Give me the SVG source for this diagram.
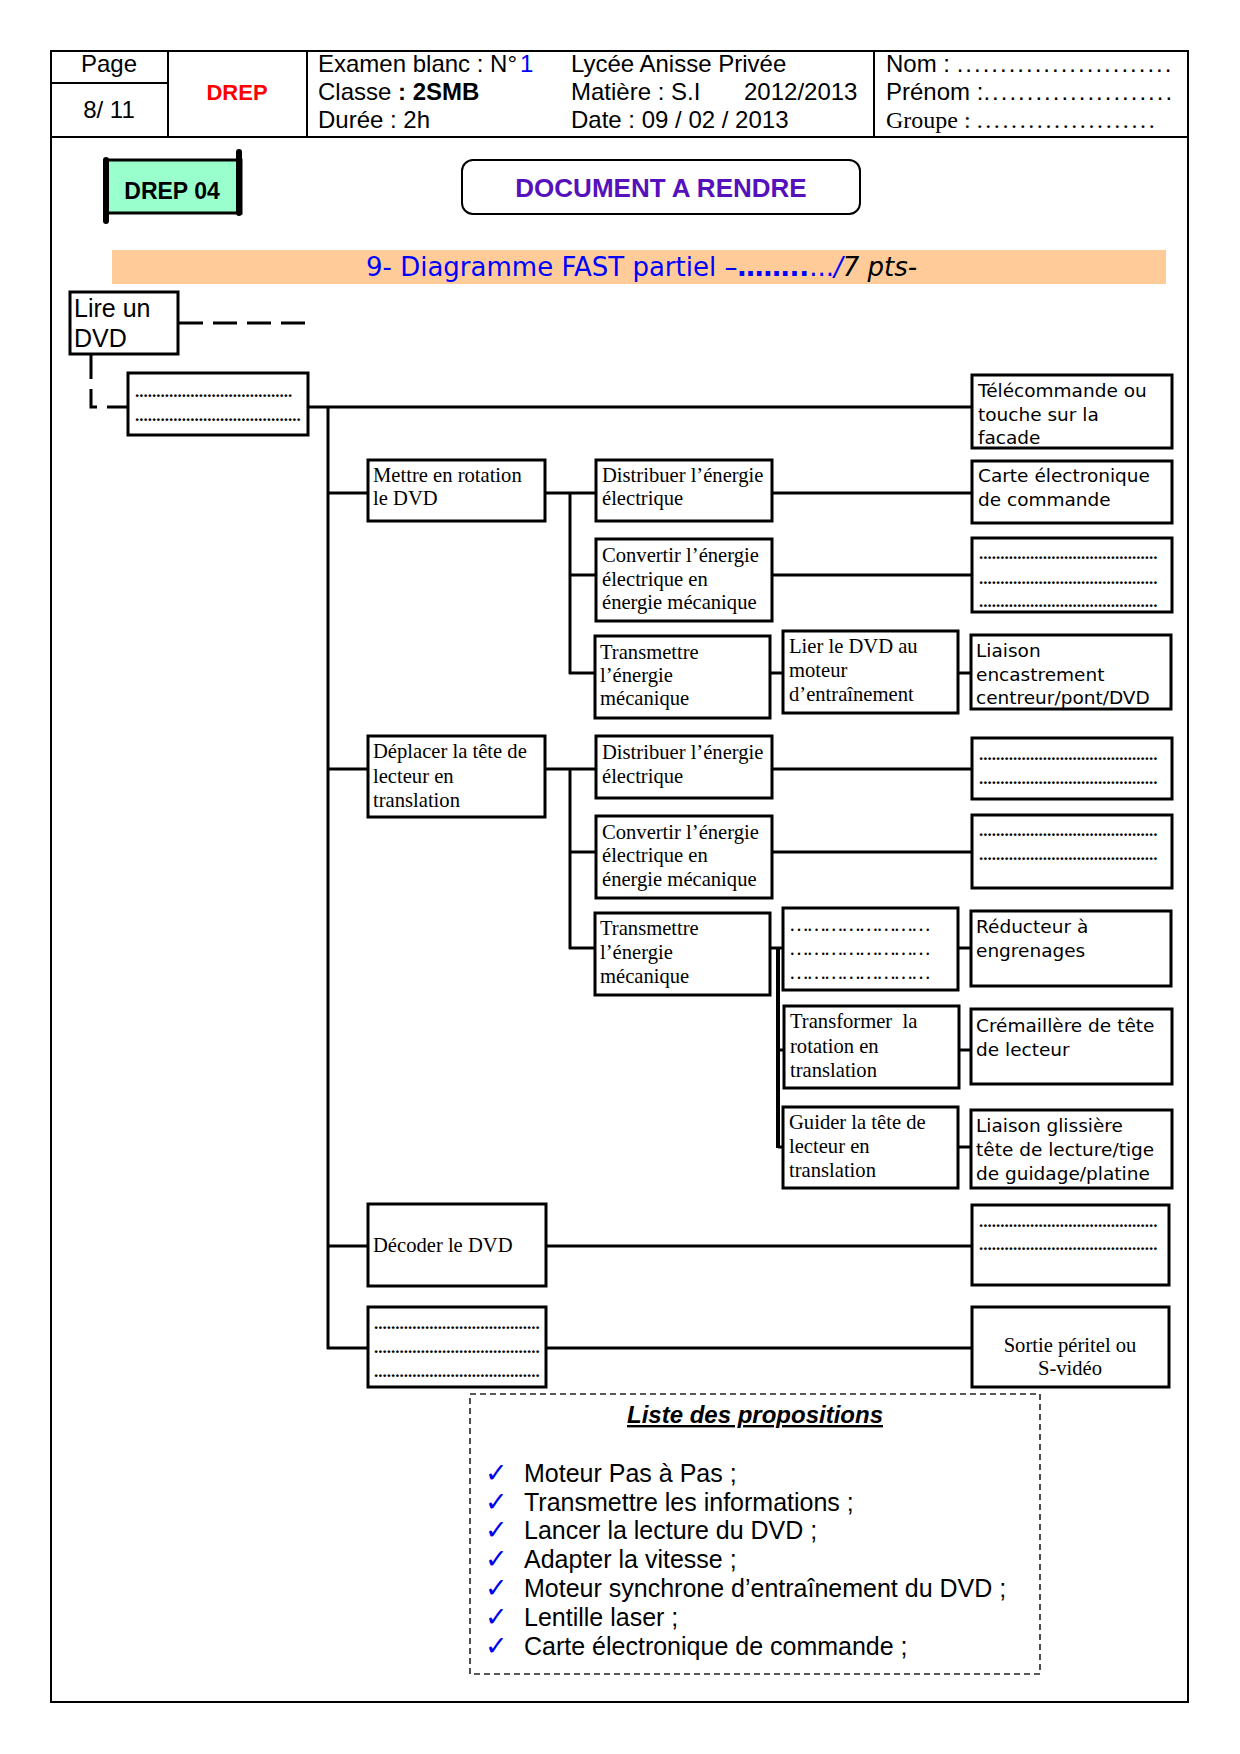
<svg xmlns="http://www.w3.org/2000/svg" width="1240" height="1754" viewBox="0 0 1240 1754">
<style>
.frame{fill:none;stroke:#000;stroke-width:2}
.box{fill:#fff;stroke:#000;stroke-width:3}
.ln{fill:none;stroke:#000;stroke-width:3}
.dash{fill:none;stroke:#000;stroke-width:3;stroke-dasharray:24 10}
.hd{font-family:"Liberation Sans",Arial,sans-serif;font-size:24px;fill:#000}
.se{font-family:"Liberation Serif","Times New Roman",serif;font-size:20.6px;fill:#000}
.sa{font-family:"DejaVu Sans",Verdana,sans-serif;font-size:18.5px;fill:#000}
.dots{font-family:"Liberation Serif","Times New Roman",serif;font-size:17px;font-weight:bold;fill:#000}
.ell{font-family:"Liberation Serif","Times New Roman",serif;font-size:20px;fill:#000}
.li{font-family:"Liberation Sans",Arial,sans-serif;font-size:25px;fill:#000}
.ck{font-family:"DejaVu Sans",sans-serif;font-size:27px;font-weight:bold;fill:#0000EE}
</style>
<rect width="1240" height="1754" fill="#fff"/>

<g id="header">
<rect class="frame" x="51" y="51" width="1137" height="1651"/>
<line class="frame" x1="51" y1="137" x2="1188" y2="137"/>
<line class="frame" x1="51" y1="83" x2="168" y2="83"/>
<line class="frame" x1="168" y1="51" x2="168" y2="137"/>
<line class="frame" x1="307" y1="51" x2="307" y2="137"/>
<line class="frame" x1="874" y1="51" x2="874" y2="137"/>
<text class="hd" x="109" y="72" text-anchor="middle">Page</text>
<text class="hd" x="109" y="118" text-anchor="middle">8/ 11</text>
<text x="237" y="100" text-anchor="middle" font-family="Liberation Sans,Arial,sans-serif" font-size="22" font-weight="bold" fill="#FF0000">DREP</text>
<text class="hd" x="318" y="72">Examen blanc : N°<tspan fill="#0000FF" dx="3">1</tspan></text>
<text class="hd" x="318" y="100">Classe <tspan font-weight="bold">: 2SMB</tspan></text>
<text class="hd" x="318" y="128">Durée : 2h</text>
<text class="hd" x="571" y="72">Lycée Anisse Privée</text>
<text class="hd" x="571" y="100">Matière : S.I</text>
<text class="hd" x="744" y="100">2012/2013</text>
<text class="hd" x="571" y="128">Date : 09 / 02 / 2013</text>
<text class="hd" x="886" y="72">Nom : <tspan letter-spacing="2">.........................</tspan></text>
<text class="hd" x="886" y="100">Prénom :<tspan letter-spacing="2">......................</tspan></text>
<text x="886" y="128" font-family="Liberation Serif,Times New Roman,serif" font-size="24">Groupe : <tspan letter-spacing="2.6">.....................</tspan></text>
</g>

<g id="drep04">
<rect x="107" y="160" width="134" height="53" fill="#99FFCC" stroke="#000" stroke-width="3"/>
<line x1="106" y1="160" x2="106" y2="221" stroke="#000" stroke-width="6" stroke-linecap="round"/>
<line x1="239" y1="152" x2="239" y2="213" stroke="#000" stroke-width="6" stroke-linecap="round"/>
<text x="172" y="199" text-anchor="middle" font-family="Liberation Sans,Arial,sans-serif" font-size="23" font-weight="bold">DREP 04</text>
</g>

<g id="doc-a-rendre">
<rect x="462" y="160" width="398" height="54" rx="11" fill="#fff" stroke="#000" stroke-width="2"/>
<text x="661" y="197" text-anchor="middle" font-family="Liberation Sans,Arial,sans-serif" font-size="26" font-weight="bold" fill="#5511BB">DOCUMENT A RENDRE</text>
</g>

<g id="title">
<rect x="112" y="250" width="1054" height="34" fill="#FFCC99"/>
<text x="366" y="276" font-family="DejaVu Sans,Verdana,sans-serif" font-size="26" fill="#0000FF">9- Diagramme FAST partiel –<tspan font-weight="bold">……..</tspan>...<tspan font-style="italic">/</tspan><tspan font-style="italic" fill="#000">7 pts-</tspan></text>
</g>

<g id="connectors">
<line class="dash" x1="179" y1="323" x2="305" y2="323"/>
<polyline fill="none" stroke="#000" stroke-width="3" stroke-dasharray="24 10" points="91,355 91,407 128,407"/>
<line class="ln" x1="308" y1="407" x2="972" y2="407"/>
<line class="ln" x1="328" y1="407" x2="328" y2="1349"/>
<line class="ln" x1="328" y1="493" x2="368" y2="493"/>
<line class="ln" x1="328" y1="769" x2="368" y2="769"/>
<line class="ln" x1="328" y1="1246" x2="368" y2="1246"/>
<line class="ln" x1="327" y1="1348" x2="368" y2="1348"/>
<line class="ln" x1="545" y1="493" x2="596" y2="493"/>
<line class="ln" x1="570" y1="493" x2="570" y2="674"/>
<line class="ln" x1="570" y1="575" x2="596" y2="575"/>
<line class="ln" x1="569" y1="673" x2="595" y2="673"/>
<line class="ln" x1="772" y1="493" x2="972" y2="493"/>
<line class="ln" x1="772" y1="575" x2="972" y2="575"/>
<line class="ln" x1="770" y1="673" x2="783" y2="673"/>
<line class="ln" x1="958" y1="673" x2="971" y2="673"/>
<line class="ln" x1="545" y1="769" x2="596" y2="769"/>
<line class="ln" x1="570" y1="769" x2="570" y2="949"/>
<line class="ln" x1="570" y1="852" x2="596" y2="852"/>
<line class="ln" x1="569" y1="948" x2="595" y2="948"/>
<line class="ln" x1="772" y1="769" x2="972" y2="769"/>
<line class="ln" x1="772" y1="852" x2="972" y2="852"/>
<line class="ln" x1="770" y1="948" x2="783" y2="948"/>
<line fill="none" stroke="#000" stroke-width="4" x1="778" y1="948" x2="778" y2="1148"/>
<line class="ln" x1="778" y1="1050" x2="784" y2="1050"/>
<line class="ln" x1="778" y1="1147" x2="783" y2="1147"/>
<line class="ln" x1="958" y1="948" x2="971" y2="948"/>
<line class="ln" x1="959" y1="1050" x2="971" y2="1050"/>
<line class="ln" x1="958" y1="1147" x2="971" y2="1147"/>
<line class="ln" x1="546" y1="1246" x2="972" y2="1246"/>
<line class="ln" x1="546" y1="1348" x2="972" y2="1348"/>
</g>

<g id="n-lire">
<rect class="box" x="70" y="292" width="108" height="62"/>
<text class="li" x="74" y="317">Lire un</text>
<text class="li" x="74" y="347">DVD</text>
</g>

<g id="n-root">
<rect class="box" x="128" y="373" width="180" height="62"/>
<text class="dots" x="135" y="397">.....................................</text>
<text class="dots" x="135" y="421">.......................................</text>
</g>

<g id="n-telecommande">
<rect class="box" x="972" y="375" width="200" height="73"/>
<text class="sa" x="978" y="397">Télécommande ou</text>
<text class="sa" x="978" y="421">touche sur la</text>
<text class="sa" x="978" y="444">facade</text>
</g>

<g id="n-mettre">
<rect class="box" x="368" y="460" width="177" height="61"/>
<text class="se" x="373" y="482">Mettre en rotation</text>
<text class="se" x="373" y="505">le DVD</text>
</g>

<g id="n-distribuer1">
<rect class="box" x="596" y="460" width="176" height="61"/>
<text class="se" x="602" y="482">Distribuer l’énergie</text>
<text class="se" x="602" y="505">électrique</text>
</g>

<g id="n-carte">
<rect class="box" x="972" y="461" width="200" height="62"/>
<text class="sa" x="978" y="482">Carte électronique</text>
<text class="sa" x="978" y="506">de commande</text>
</g>

<g id="n-convertir1">
<rect class="box" x="596" y="539" width="176" height="82"/>
<text class="se" x="602" y="562">Convertir l’énergie</text>
<text class="se" x="602" y="586">électrique en</text>
<text class="se" x="602" y="609">énergie mécanique</text>
</g>

<g id="n-dots1">
<rect class="box" x="972" y="538" width="200" height="74"/>
<text class="dots" x="979" y="559">..........................................</text>
<text class="dots" x="979" y="584">..........................................</text>
<text class="dots" x="979" y="607">..........................................</text>
</g>

<g id="n-transmettre1">
<rect class="box" x="595" y="636" width="175" height="82"/>
<text class="se" x="600" y="659">Transmettre</text>
<text class="se" x="600" y="682">l’énergie</text>
<text class="se" x="600" y="705">mécanique</text>
</g>

<g id="n-lier">
<rect class="box" x="783" y="631" width="175" height="82"/>
<text class="se" x="789" y="653">Lier le DVD au</text>
<text class="se" x="789" y="677">moteur</text>
<text class="se" x="789" y="701">d’entraînement</text>
</g>

<g id="n-encastrement">
<rect class="box" x="971" y="635" width="200" height="74"/>
<text class="sa" x="976" y="657">Liaison</text>
<text class="sa" x="976" y="681">encastrement</text>
<text class="sa" x="976" y="704">centreur/pont/DVD</text>
</g>

<g id="n-deplacer">
<rect class="box" x="368" y="736" width="177" height="81"/>
<text class="se" x="373" y="758">Déplacer la tête de</text>
<text class="se" x="373" y="783">lecteur en</text>
<text class="se" x="373" y="807">translation</text>
</g>

<g id="n-distribuer2">
<rect class="box" x="596" y="736" width="176" height="62"/>
<text class="se" x="602" y="759">Distribuer l’énergie</text>
<text class="se" x="602" y="783">électrique</text>
</g>

<g id="n-dots2">
<rect class="box" x="972" y="738" width="200" height="61"/>
<text class="dots" x="979" y="760">..........................................</text>
<text class="dots" x="979" y="784">..........................................</text>
</g>

<g id="n-convertir2">
<rect class="box" x="596" y="816" width="176" height="82"/>
<text class="se" x="602" y="839">Convertir l’énergie</text>
<text class="se" x="602" y="862">électrique en</text>
<text class="se" x="602" y="886">énergie mécanique</text>
</g>

<g id="n-dots3">
<rect class="box" x="972" y="815" width="200" height="73"/>
<text class="dots" x="979" y="836">..........................................</text>
<text class="dots" x="979" y="860">..........................................</text>
</g>

<g id="n-transmettre2">
<rect class="box" x="595" y="913" width="175" height="82"/>
<text class="se" x="600" y="935">Transmettre</text>
<text class="se" x="600" y="959">l’énergie</text>
<text class="se" x="600" y="983">mécanique</text>
</g>

<g id="n-dots4">
<rect class="box" x="783" y="908" width="175" height="82"/>
<text class="ell" x="789" y="931" textLength="142" lengthAdjust="spacing">……………………</text>
<text class="ell" x="789" y="955" textLength="142" lengthAdjust="spacing">……………………</text>
<text class="ell" x="789" y="979" textLength="142" lengthAdjust="spacing">……………………</text>
</g>

<g id="n-reducteur">
<rect class="box" x="971" y="911" width="200" height="75"/>
<text class="sa" x="976" y="933">Réducteur à</text>
<text class="sa" x="976" y="957">engrenages</text>
</g>

<g id="n-transformer">
<rect class="box" x="784" y="1006" width="175" height="82"/>
<text class="se" x="790" y="1028" xml:space="preserve">Transformer  la</text>
<text class="se" x="790" y="1053">rotation en</text>
<text class="se" x="790" y="1077">translation</text>
</g>

<g id="n-cremaillere">
<rect class="box" x="971" y="1009" width="201" height="75"/>
<text class="sa" x="976" y="1032">Crémaillère de tête</text>
<text class="sa" x="976" y="1056">de lecteur</text>
</g>

<g id="n-guider">
<rect class="box" x="783" y="1107" width="175" height="81"/>
<text class="se" x="789" y="1129">Guider la tête de</text>
<text class="se" x="789" y="1153">lecteur en</text>
<text class="se" x="789" y="1177">translation</text>
</g>

<g id="n-glissiere">
<rect class="box" x="971" y="1110" width="201" height="78"/>
<text class="sa" x="976" y="1132">Liaison glissière</text>
<text class="sa" x="976" y="1156">tête de lecture/tige</text>
<text class="sa" x="976" y="1180">de guidage/platine</text>
</g>

<g id="n-decoder">
<rect class="box" x="368" y="1204" width="178" height="82"/>
<text class="se" x="373" y="1252">Décoder le DVD</text>
</g>

<g id="n-dots5">
<rect class="box" x="972" y="1205" width="197" height="80"/>
<text class="dots" x="979" y="1227">..........................................</text>
<text class="dots" x="979" y="1250">..........................................</text>
</g>

<g id="n-dots6">
<rect class="box" x="368" y="1307" width="178" height="80"/>
<text class="dots" x="374" y="1329">.......................................</text>
<text class="dots" x="374" y="1353">.......................................</text>
<text class="dots" x="374" y="1377">.......................................</text>
</g>

<g id="n-sortie">
<rect class="box" x="972" y="1307" width="197" height="80"/>
<text class="se" x="1070" y="1352" text-anchor="middle">Sortie péritel ou</text>
<text class="se" x="1070" y="1375" text-anchor="middle">S-vidéo</text>
</g>

<g id="liste">
<rect x="470" y="1394" width="570" height="280" fill="none" stroke="#222" stroke-width="1.6" stroke-dasharray="6 4"/>
<text x="755" y="1423" text-anchor="middle" font-family="Liberation Sans,Arial,sans-serif" font-size="24" font-weight="bold" font-style="italic" text-decoration="underline">Liste des propositions</text>
<text class="ck" x="485" y="1482">✓</text>
<text class="li" x="524" y="1482">Moteur Pas à Pas ;</text>
<text class="ck" x="485" y="1511">✓</text>
<text class="li" x="524" y="1511">Transmettre les informations ;</text>
<text class="ck" x="485" y="1539">✓</text>
<text class="li" x="524" y="1539">Lancer la lecture du DVD ;</text>
<text class="ck" x="485" y="1568">✓</text>
<text class="li" x="524" y="1568">Adapter la vitesse ;</text>
<text class="ck" x="485" y="1597">✓</text>
<text class="li" x="524" y="1597">Moteur synchrone d’entraînement du DVD ;</text>
<text class="ck" x="485" y="1626">✓</text>
<text class="li" x="524" y="1626">Lentille laser ;</text>
<text class="ck" x="485" y="1655">✓</text>
<text class="li" x="524" y="1655">Carte électronique de commande ;</text>
</g>
</svg>
